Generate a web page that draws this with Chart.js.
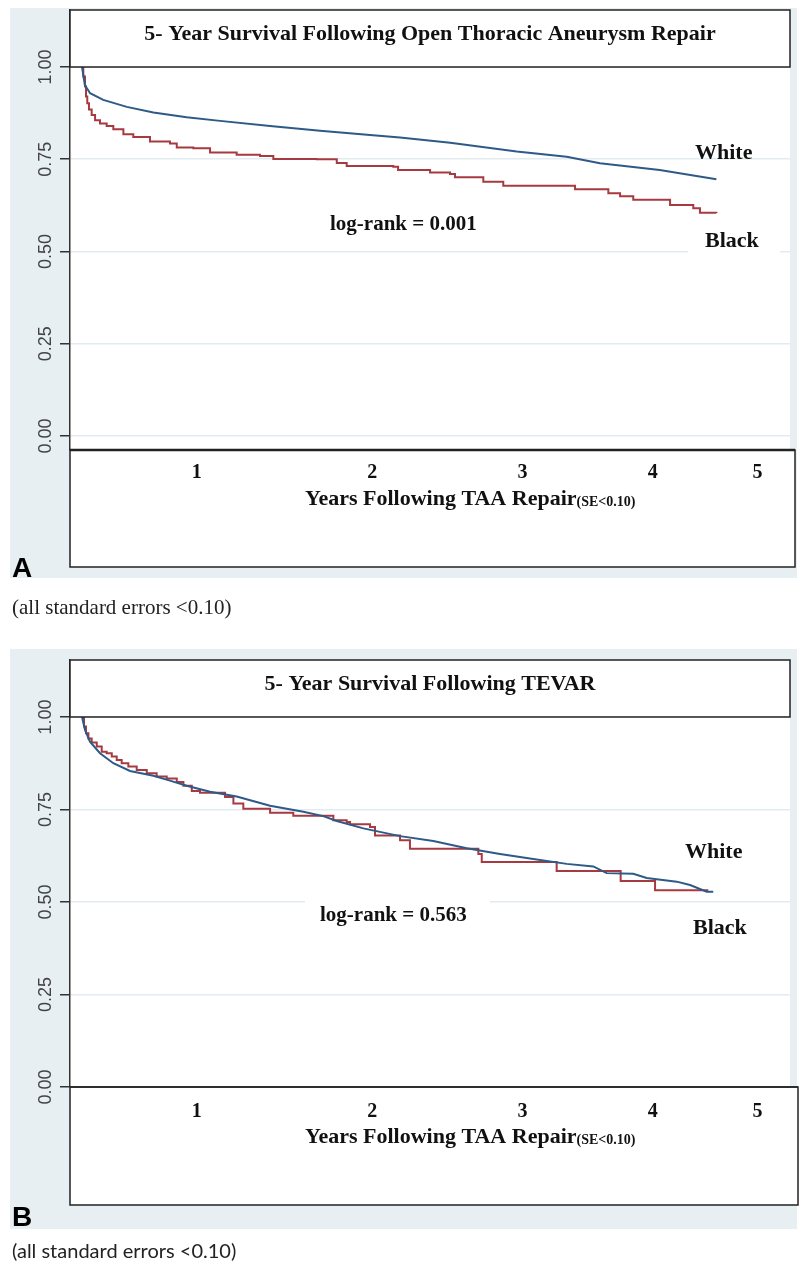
<!DOCTYPE html>
<html>
<head>
<meta charset="utf-8">
<script src="https://cdn.jsdelivr.net/npm/chart.js@4.4.1/dist/chart.umd.min.js"></script>
<style>
  body { margin: 0; background: #fff; width: 800px; height: 1262px; position: relative; overflow: hidden; }
  .bg { position: absolute; background: #e8eff3; }
  canvas { position: absolute; left: 0; }
</style>
</head>
<body>
<div class="bg" style="left:10px; top:8px; width:787px; height:570px;"></div>
<div class="bg" style="left:10px; top:649px; width:787px; height:580px;"></div>
<canvas id="stageA" width="800" height="650" style="top:0px"></canvas>
<canvas id="stageB" width="800" height="612" style="top:650px"></canvas>
<script>
// y axis ticks and x tick labels (labels sit where they were typed in the figure)
const yTicks = [0, 0.25, 0.5, 0.75, 1.0];
const xTickLabels = ['1', '2', '3', '4', '5'];
const xTickAt = [0.81, 2.05, 3.11, 4.03, 4.77];

// Panel A - open repair: years, survival
const openWhiteT = [0, 0.02, 0.057, 0.15, 0.316, 0.504, 0.739, 0.975, 1.328, 1.681, 2.034, 2.246, 2.6, 3.07, 3.423, 3.658, 4.08, 4.48];
const openWhiteS = [1.0, 0.951, 0.929, 0.911, 0.892, 0.877, 0.864, 0.854, 0.840, 0.827, 0.816, 0.809, 0.795, 0.771, 0.757, 0.739, 0.721, 0.696];
const openBlackT = [0, 0.009, 0.021, 0.028, 0.037, 0.049, 0.068, 0.092, 0.127, 0.174, 0.221, 0.292, 0.362, 0.48, 0.621, 0.669, 0.786, 0.904, 1.092, 1.257, 1.351, 1.657, 1.799, 1.869, 2.198, 2.232, 2.458, 2.599, 2.634, 2.834, 2.975, 3.482, 3.717, 3.8, 3.893, 4.153, 4.317, 4.364, 4.48];
const openBlackS = [1.0, 0.974, 0.947, 0.920, 0.902, 0.885, 0.870, 0.856, 0.847, 0.840, 0.831, 0.818, 0.810, 0.798, 0.793, 0.782, 0.780, 0.768, 0.762, 0.759, 0.751, 0.750, 0.740, 0.732, 0.730, 0.721, 0.714, 0.710, 0.701, 0.689, 0.678, 0.669, 0.658, 0.650, 0.640, 0.626, 0.617, 0.605, 0.604];

// Panel B - TEVAR
const tevarWhiteT = [0, 0.021, 0.056, 0.127, 0.221, 0.339, 0.504, 0.621, 0.739, 0.904, 1.092, 1.328, 1.563, 1.704, 1.799, 1.987, 2.246, 2.481, 2.717, 2.952, 3.187, 3.423, 3.611, 3.705, 3.893, 3.988, 4.2, 4.294, 4.412, 4.458];
const tevarWhiteS = [1.0, 0.965, 0.933, 0.902, 0.875, 0.854, 0.841, 0.828, 0.814, 0.798, 0.785, 0.760, 0.744, 0.732, 0.719, 0.699, 0.678, 0.665, 0.645, 0.630, 0.616, 0.603, 0.596, 0.578, 0.576, 0.565, 0.555, 0.546, 0.528, 0.528];
const tevarBlackT = [0, 0.014, 0.028, 0.045, 0.068, 0.104, 0.139, 0.174, 0.21, 0.245, 0.28, 0.327, 0.386, 0.457, 0.527, 0.598, 0.669, 0.716, 0.775, 0.833, 1.01, 1.069, 1.139, 1.328, 1.492, 1.775, 1.869, 1.893, 2.034, 2.069, 2.246, 2.316, 2.799, 2.823, 3.352, 3.804, 4.047, 4.423];
const tevarBlackS = [1.0, 0.974, 0.956, 0.942, 0.931, 0.920, 0.906, 0.902, 0.893, 0.884, 0.875, 0.866, 0.857, 0.848, 0.839, 0.834, 0.824, 0.814, 0.800, 0.795, 0.784, 0.766, 0.752, 0.741, 0.733, 0.721, 0.716, 0.710, 0.703, 0.680, 0.667, 0.644, 0.630, 0.608, 0.584, 0.557, 0.532, 0.532];

const BLUE = '#2d5a87';
const RED = '#a63a40';
const SERIF = '"Liberation Serif", "Times New Roman", serif';

function toPoints(t, s) {
  return t.map((x, i) => ({x: x, y: s[i]}));
}

// everything around the plot: title box, labels, bottom box
const panelDecor = {
  id: 'panelDecor',
  beforeDraw(chart) {
    const a = chart.chartArea, ctx = chart.ctx;
    ctx.save();
    ctx.fillStyle = '#fff';
    ctx.fillRect(a.left, a.top, a.right - a.left, a.bottom - a.top);
    ctx.restore();
  },
  afterDatasetsDraw(chart, args, opts) {
    const ctx = chart.ctx, a = chart.chartArea;
    const xs = chart.scales.x, ys = chart.scales.y;
    const top1 = ys.getPixelForValue(1.0);
    ctx.save();
    // title box
    ctx.fillStyle = '#fff';
    ctx.fillRect(a.left, a.top, a.right - a.left, top1 - a.top);
    ctx.strokeStyle = '#222';
    ctx.lineWidth = 1.5;
    ctx.strokeRect(a.left, a.top, a.right - a.left, top1 - a.top);
    ctx.fillStyle = '#111';
    ctx.font = 'bold 22px ' + SERIF;
    ctx.textAlign = 'center';
    ctx.textBaseline = 'middle';
    ctx.fillText(opts.title, (a.left + a.right) / 2, opts.titleY);

    // text labels in the plot
    ctx.textAlign = 'left';
    opts.labels.forEach(l => {
      if (l.bg) {
        ctx.fillStyle = '#fff';
        ctx.fillRect(l.bg[0], l.bg[1], l.bg[2], l.bg[3]);
      }
      ctx.fillStyle = '#111';
      ctx.font = 'bold ' + l.size + 'px ' + SERIF;
      ctx.fillText(l.text, l.x, l.y);
    });

    // bottom box covering the x axis
    const bx = a.left, by = opts.boxTop, bw = opts.boxRight - a.left, bh = opts.boxBottom - opts.boxTop;
    ctx.fillStyle = '#fff';
    ctx.fillRect(bx, by, bw, bh);
    ctx.strokeStyle = '#222';
    ctx.lineWidth = 1.5;
    ctx.strokeRect(bx, by, bw, bh);
    ctx.lineWidth = opts.boxTopWidth;
    ctx.beginPath();
    ctx.moveTo(bx, by);
    ctx.lineTo(bx + bw, by);
    ctx.stroke();

    ctx.fillStyle = '#111';
    ctx.textAlign = 'center';
    ctx.font = 'bold 20px ' + SERIF;
    xTickLabels.forEach((lab, i) => {
      ctx.fillText(lab, xs.getPixelForValue(xTickAt[i]), by + opts.tickDy);
    });
    ctx.textAlign = 'left';
    ctx.font = 'bold 22px ' + SERIF;
    const main = 'Years Following TAA Repair';
    ctx.fillText(main, opts.axisX, by + opts.axisDy);
    const w = ctx.measureText(main).width;
    ctx.font = 'bold 14px ' + SERIF;
    ctx.fillText('(SE<0.10)', opts.axisX + w, by + opts.axisDy + 3);

    // rotated y tick labels
    ctx.fillStyle = '#444';
    ctx.font = '18px "Liberation Sans", Arial, sans-serif';
    ctx.textAlign = 'center';
    yTicks.forEach(v => {
      ctx.save();
      ctx.translate(46, ys.getPixelForValue(v));
      ctx.rotate(-Math.PI / 2);
      ctx.fillText(v.toFixed(2), 0, 0);
      ctx.restore();
    });

    // panel letter and caption
    ctx.fillStyle = '#000';
    ctx.textAlign = 'left';
    ctx.textBaseline = 'top';
    ctx.font = 'bold 28px "Liberation Sans", Arial, sans-serif';
    ctx.fillText(opts.letter, 12, opts.letterY);
    ctx.textBaseline = 'middle';
    ctx.fillStyle = '#222';
    ctx.font = opts.captionFont;
    ctx.fillText('(all standard errors <0.10)', 12, opts.captionY);
    ctx.restore();
  }
};

function drawPanel(canv, whitePts, blackPts, yMin, yMax, padBottom, decor) {
  return new Chart(canv, {
    type: 'line',
    data: {
      datasets: [
        {label: 'White', data: whitePts, borderColor: BLUE, borderWidth: 2, pointRadius: 0, tension: 0},
        {label: 'Black', data: blackPts, borderColor: RED, borderWidth: 2, pointRadius: 0, stepped: true}
      ]
    },
    options: {
      responsive: false,
      animation: false,
      events: [],
      layout: {padding: {top: 10, left: 60, right: 10, bottom: padBottom}},
      plugins: {
        legend: {display: false},
        tooltip: {enabled: false},
        panelDecor: decor
      },
      scales: {
        x: {type: 'linear', min: -0.085, max: 5.0, display: false},
        y: {
          min: yMin,
          max: yMax,
          afterBuildTicks: s => { s.ticks = yTicks.map(v => ({value: v})); },
          ticks: {display: false},
          grid: {color: '#e1ebf0', lineWidth: 1.5, tickColor: '#333', tickLength: 10, drawTicks: true},
          border: {display: true, color: '#333', width: 1.5}
        }
      }
    },
    plugins: [panelDecor]
  });
}

drawPanel(document.getElementById('stageA'),
  toPoints(openWhiteT, openWhiteS), toPoints(openBlackT, openBlackS),
  -0.038, 1.1545, 200, {
    title: '5- Year Survival Following Open Thoracic Aneurysm Repair', titleY: 34,
    labels: [
      {text: 'White', x: 695, y: 153, size: 22},
      {text: 'Black', x: 705, y: 241, size: 22, bg: [688, 228, 92, 28]},
      {text: 'log-rank = 0.001', x: 330, y: 225, size: 21}
    ],
    boxTop: 450, boxBottom: 567, boxRight: 795, boxTopWidth: 2.5,
    tickDy: 23, axisDy: 49, axisX: 305,
    letter: 'A', letterY: 555,
    captionFont: '21px ' + SERIF, captionY: 608
  });

drawPanel(document.getElementById('stageB'),
  toPoints(tevarWhiteT, tevarWhiteS), toPoints(tevarBlackT, tevarBlackS),
  0, 1.154, 612 - 437, {
    title: '5- Year Survival Following TEVAR', titleY: 34,
    labels: [
      {text: 'White', x: 685, y: 202, size: 22},
      {text: 'Black', x: 693, y: 278, size: 22},
      {text: 'log-rank = 0.563', x: 320, y: 266, size: 21, bg: [305, 248, 185, 36]}
    ],
    boxTop: 437, boxBottom: 555, boxRight: 798, boxTopWidth: 1.5,
    tickDy: 25, axisDy: 50, axisX: 305,
    letter: 'B', letterY: 554,
    captionFont: '20px Lato, "Open Sans", sans-serif', captionY: 602
  });
</script>
</body>
</html>
